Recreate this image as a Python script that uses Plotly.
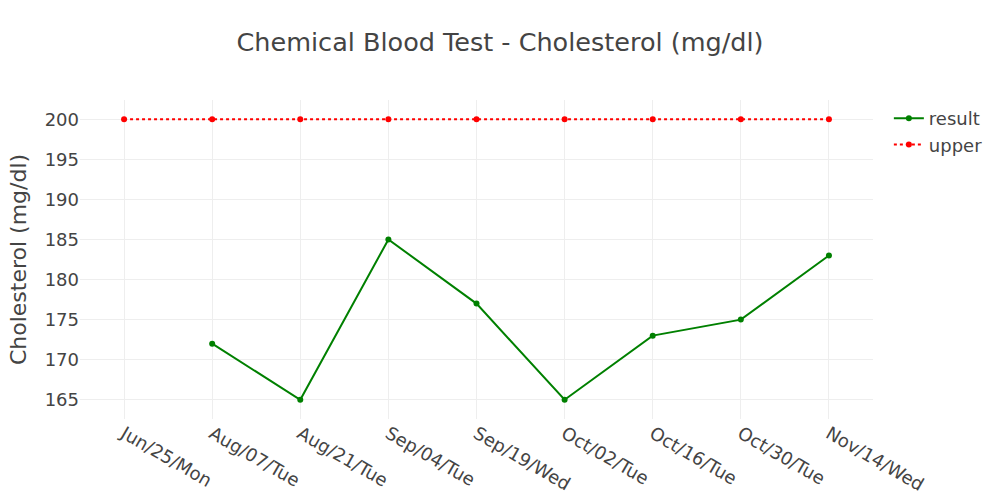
import plotly.graph_objects as go

dates = ["Jun/25/Mon", "Aug/07/Tue", "Aug/21/Tue", "Sep/04/Tue", "Sep/19/Wed",
         "Oct/02/Tue", "Oct/16/Tue", "Oct/30/Tue", "Nov/14/Wed"]
result = [None, 172, 165, 185, 177, 165, 173, 175, 183]
upper = [200, 200, 200, 200, 200, 200, 200, 200, 200]

fig = go.Figure()
fig.add_trace(go.Scatter(x=dates, y=result, name="result", mode="lines+markers",
                         line=dict(color="green", width=2), marker=dict(size=6)))
fig.add_trace(go.Scatter(x=dates, y=upper, name="upper", mode="lines+markers",
                         line=dict(color="red", width=2, dash="dot"), marker=dict(size=6)))

fig.update_layout(
    width=1000, height=500,
    template="none",
    paper_bgcolor="white", plot_bgcolor="white",
    font=dict(family="Verdana, DejaVu Sans, sans-serif", size=18, color="#444"),
    title=dict(text="Chemical Blood Test - Cholesterol (mg/dl)", x=0.5, xanchor="center",
               y=0.915, yanchor="middle", font=dict(size=25.5)),
    margin=dict(l=80, r=127, t=100, b=81),
    legend=dict(x=1.02, y=1, xanchor="left", yanchor="top", font=dict(size=18)),
    xaxis=dict(type="category", range=[-0.5, 8.5], tickangle=30, showgrid=True,
               gridcolor="#eee", zeroline=False, showline=False, ticks=""),
    yaxis=dict(title=dict(text="Cholesterol (mg/dl)", font=dict(size=22)),
               range=[162.6, 202.4], dtick=5, showgrid=True, gridcolor="#eee",
               zeroline=False, showline=False, ticks=""),
)
fig.write_html("out.html")
